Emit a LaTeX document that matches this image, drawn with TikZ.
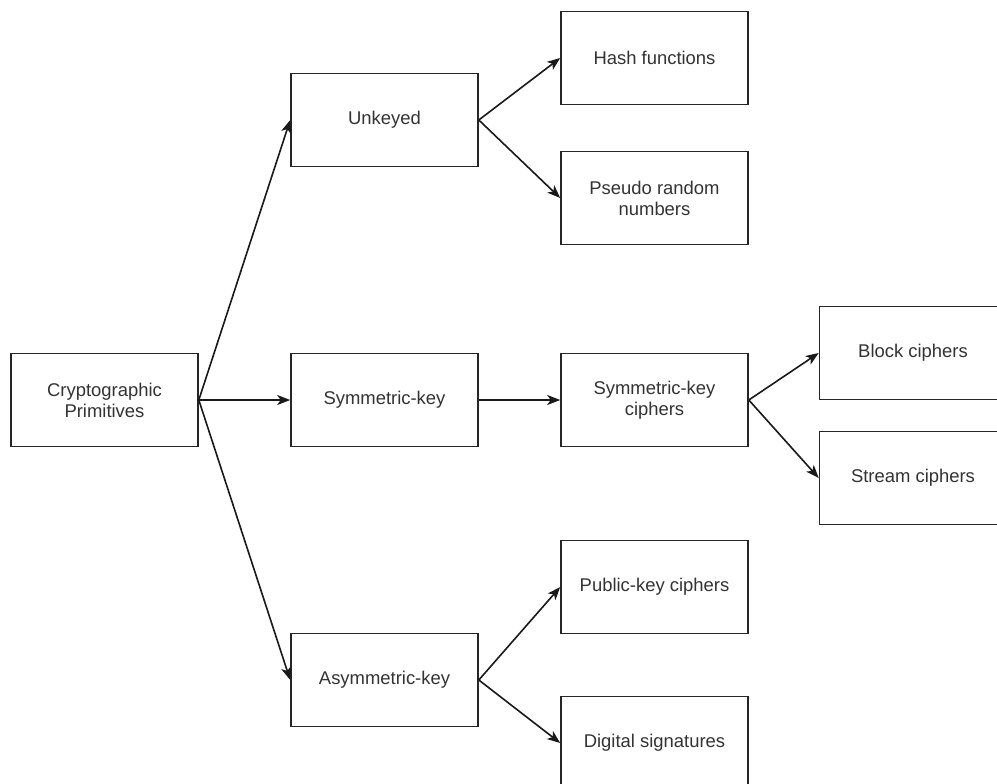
\documentclass[tikz,border=0pt]{standalone}
\usepackage{fontspec}
\setmainfont{Liberation Sans}
\usetikzlibrary{arrows.meta}
\begin{document}
\begin{tikzpicture}[x=1bp,y=-1bp,
  box/.style={draw=black!85,line width=1.6bp,fill=white,minimum width=187bp,minimum height=93bp,
    inner sep=2bp,align=center,font=\fontsize{18.5}{21}\selectfont,text=black!80},
  link/.style={draw=black!90,line width=1.6bp,-{Stealth[length=13bp,width=10bp,inset=3.5bp]}}]
\useasboundingbox (0,0) rectangle (997,784);
\clip (0,0) rectangle (997,784);
\fill[white] (0,0) rectangle (997,784);
% first level
\node[box] (cp)   at (104.5,400) {Cryptographic\\Primitives};
% second level
\node[box] (unk)  at (384.5,120) {Unkeyed};
\node[box] (sym)  at (384.5,400) {Symmetric-key};
\node[box] (asym) at (384.5,680) {Asymmetric-key};
% third level
\node[box] (hash) at (654.5,58)  {Hash functions};
\node[box] (prn)  at (654.5,198) {Pseudo random\\numbers};
\node[box] (symc) at (654.5,400) {Symmetric-key\\ciphers};
\node[box] (pub)  at (654.5,587) {Public-key ciphers};
\node[box] (dig)  at (654.5,743) {Digital signatures};
% fourth level
\node[box] (blk)  at (913,353)   {Block ciphers};
\node[box] (str)  at (913,478)   {Stream ciphers};
% connectors
\draw[link] (cp.east) -- (unk.west);
\draw[link] (cp.east) -- (sym.west);
\draw[link] (cp.east) -- (asym.west);
\draw[link] (unk.east) -- (hash.west);
\draw[link] (unk.east) -- (prn.west);
\draw[link] (sym.east) -- (symc.west);
\draw[link] (symc.east) -- (blk.west);
\draw[link] (symc.east) -- (str.west);
\draw[link] (asym.east) -- (pub.west);
\draw[link] (asym.east) -- (dig.west);
\end{tikzpicture}
\end{document}
